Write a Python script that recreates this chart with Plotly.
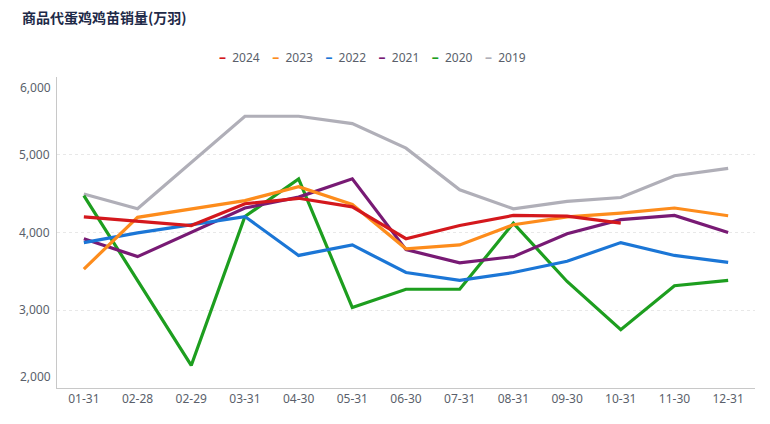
import plotly.graph_objects as go

categories = ["01-31", "02-28", "02-29", "03-31", "04-30", "05-31", "06-30",
              "07-31", "08-31", "09-30", "10-31", "11-30", "12-31"]

y2024 = [4200, None, 4090, 4370, 4440, 4330, 3920, 4090, 4220, 4210, 4120, None, None]
y2023 = [3530, 4195, None, 4410, 4590, 4360, 3790, 3840, 4100, 4200, 4250, 4315, 4215]
y2022 = [3870, 3995, None, 4205, 3705, 3840, 3485, 3385, 3485, 3630, 3870, 3705, 3615]
y2021 = [3920, 3690, None, 4315, 4455, 4690, 3780, 3610, 3690, 3985, 4165, 4220, 4000]
y2020 = [4475, None, 2290, 4205, 4690, 3035, 3270, 3270, 4120, 3370, 2750, 3315, 3385]
y2019 = [4495, 4305, None, 5495, 5495, 5400, 5085, 4550, 4305, 4400, 4450, 4730, 4825]

series_names = ["2024", "2023", "2022", "2021", "2020", "2019"]
series_values = [y2024, y2023, y2022, y2021, y2020, y2019]
series_colors = ["#d4181d", "#fd8c1c", "#1b76d6", "#781a74", "#1d9e1f", "#b0afb8"]

y_ticks = [2000, 3000, 4000, 5000, 6000]

TXT = "#5a5f6b"
fig = go.Figure()

# lines (drawn so that 2024 ends on top)
for name, vals, col in reversed(list(zip(series_names, series_values, series_colors))):
    fig.add_trace(go.Scatter(
        x=categories, y=vals, name=name, mode="lines",
        line=dict(color=col, width=3.2), connectgaps=True,
        showlegend=False, hoverinfo="x+y+name"))

fmt = lambda v: f"{v:,}"
# page body has an 8px margin, so the figure is sized 8px smaller
fig.update_layout(
    width=762, height=416,
    margin=dict(l=49, r=15, t=69, b=36),
    paper_bgcolor="white", plot_bgcolor="white",
    font=dict(family="Noto Sans, Noto Sans CJK SC, sans-serif", size=12, color=TXT),
    title=dict(text="<b>商品代蛋鸡鸡苗销量(万羽)</b>", x=0, xref="container", xanchor="left",
               y=0.975, yanchor="middle", pad=dict(l=14),
               font=dict(size=14, color="#1e2a48", family="Noto Sans CJK SC, sans-serif")),
    showlegend=False,
    xaxis=dict(type="category", categoryorder="array", categoryarray=categories,
               range=[-0.5, len(categories) - 0.5], showgrid=False,
               showline=True, linecolor="#c8c8c8", linewidth=1, ticks="",
               tickfont=dict(size=12, color=TXT), zeroline=False, fixedrange=True),
    yaxis=dict(range=[y_ticks[0], y_ticks[-1]], tickvals=y_ticks,
               ticktext=["" if v in (y_ticks[0], y_ticks[-1]) else fmt(v) for v in y_ticks],
               showgrid=True, gridcolor="#e8e8e8", griddash="dot", gridwidth=1,
               showline=True, linecolor="#c8c8c8", linewidth=1, ticks="",
               zeroline=False, tickfont=dict(size=12, color=TXT),
               ticklabelstandoff=4, fixedrange=True),
    hovermode="x unified",
)

# boundary tick labels kept inside the plot height (as in the reference)
fig.add_annotation(x=0, xref="paper", xanchor="right", xshift=-4, y=y_ticks[0], yref="y",
                   yshift=12, text=fmt(y_ticks[0]), showarrow=False,
                   font=dict(size=12, color=TXT))
fig.add_annotation(x=0, xref="paper", xanchor="right", xshift=-4, y=y_ticks[-1], yref="y",
                   yshift=-10, text=fmt(y_ticks[-1]), showarrow=False,
                   font=dict(size=12, color=TXT))

# compact legend (short colour dash + year), built from the series lists
legend_text = "&nbsp;&nbsp;&nbsp;&nbsp;".join(
    f"<span style='color:{c};font-size:14px'><b>–</b></span>&nbsp;&nbsp;{n}"
    for n, c in zip(series_names, series_colors))
fig.add_annotation(x=0.4527, xref="paper", xanchor="center", y=1.0675, yref="paper",
                   yanchor="middle", text=legend_text, showarrow=False,
                   font=dict(size=12, color=TXT))

fig.write_html("out.html")
